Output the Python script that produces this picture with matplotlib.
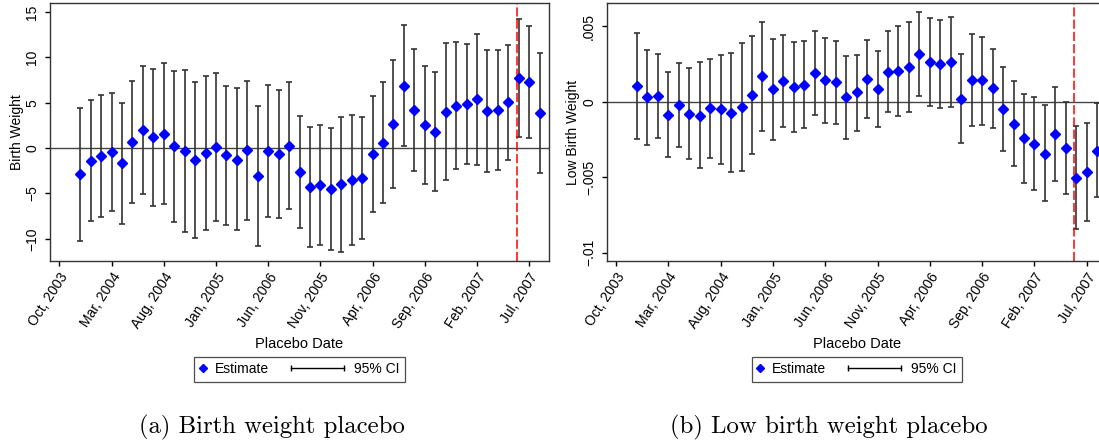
import numpy as np
import matplotlib
matplotlib.use("Agg")
import matplotlib.pyplot as plt
from matplotlib.lines import Line2D
from matplotlib.legend_handler import HandlerBase

plt.rcParams['font.family'] = ['Liberation Sans', 'DejaVu Sans']

# placebo months, counted from Oct 2003 (= 0)
months = np.arange(2, 47)
tick_pos = [0, 5, 10, 15, 20, 25, 30, 35, 40, 45]
tick_labels = ['Oct, 2003', 'Mar, 2004', 'Aug, 2004', 'Jan, 2005', 'Jun, 2006',
               'Nov, 2005', 'Apr, 2006', 'Sep, 2006', 'Feb, 2007', 'Jul, 2007']
policy_month = 43.8

# (a) birth weight
est_bw = [-2.9, -1.47, -0.88, -0.44, -1.69, 0.62, 1.99, 1.18, 1.58, 0.18,
          -0.33, -1.29, -0.55, 0.11, -0.81, -1.29, -0.26, -3.05, -0.33, -0.63,
          0.26, -2.65, -4.26, -4.08, -4.56, -3.97, -3.53, -3.35, -0.63, 0.59,
          2.65, 6.88, 4.19, 2.57, 1.8, 4.0, 4.67, 4.82, 5.37, 4.04,
          4.19, 5.07, 7.72, 7.24, 3.86]
hi_bw = [4.4, 5.26, 5.88, 6.03, 5.0, 7.43, 9.04, 8.71, 9.34, 8.46,
         8.57, 7.32, 7.9, 8.3, 6.88, 6.58, 7.43, 4.67, 6.95, 6.4,
         7.28, 3.57, 2.35, 2.57, 2.17, 3.46, 3.6, 3.42, 5.7, 7.28,
         9.67, 13.6, 10.9, 9.08, 8.38, 11.6, 11.7, 11.5, 12.6, 10.85,
         10.77, 11.4, 14.23, 13.46, 10.5]
lo_bw = [-10.2, -8.05, -7.6, -6.9, -8.35, -6.1, -5.1, -6.36, -6.14, -8.1,
         -9.26, -9.9, -9.0, -8.05, -8.5, -9.08, -7.94, -10.77, -7.65, -7.76,
         -6.69, -8.86, -10.88, -10.74, -11.2, -11.43, -10.7, -10.07, -7.0, -6.07,
         -4.38, 0.2, -2.54, -3.93, -4.74, -3.53, -2.35, -1.8, -1.88, -2.68,
         -2.43, -1.29, 1.25, 1.07, -2.79]

# (b) low birth weight (in thousandths)
est_lbw = [1.02, 0.29, 0.35, -0.86, -0.22, -0.80, -0.93, -0.44, -0.51, -0.73,
           -0.33, 0.44, 1.69, 0.82, 1.35, 1.00, 1.11, 1.88, 1.42, 1.29,
           0.29, 0.62, 1.51, 0.84, 2.00, 2.04, 2.31, 3.15, 2.62, 2.48,
           2.62, 0.18, 1.44, 1.42, 0.89, -0.51, -1.46, -2.42, -2.77, -3.44,
           -2.11, -3.08, -5.06, -4.63, -3.24]
hi_lbw = [4.55, 3.46, 3.17, 2.00, 2.55, 2.24, 2.62, 2.86, 3.13, 3.26,
          3.92, 4.35, 5.32, 4.17, 4.46, 3.99, 4.06, 4.66, 4.24, 4.01,
          3.02, 3.10, 4.10, 3.37, 4.72, 5.03, 5.30, 5.96, 5.54, 5.39,
          5.61, 3.15, 4.50, 4.30, 3.48, 2.28, 1.35, 0.49, 0.29, -0.24,
          1.00, -0.02, -1.64, -1.40, -0.09]
lo_lbw = [-2.46, -2.88, -2.39, -3.68, -2.97, -3.81, -4.41, -3.70, -4.15, -4.68,
          -4.59, -3.46, -1.95, -2.51, -1.69, -2.02, -1.75, -0.86, -1.40, -1.46,
          -2.44, -1.91, -1.06, -1.66, -0.67, -0.93, -0.69, 0.35, -0.27, -0.40,
          -0.38, -2.75, -1.64, -1.51, -1.71, -3.28, -4.26, -5.37, -5.85, -6.59,
          -5.23, -6.14, -8.43, -7.90, -6.34]
est_lbw = np.array(est_lbw) / 1000
hi_lbw = np.array(hi_lbw) / 1000
lo_lbw = np.array(lo_lbw) / 1000


class HandlerCI(HandlerBase):
    def create_artists(self, legend, orig_handle, xdescent, ydescent,
                       width, height, fontsize, trans):
        x1 = width - xdescent
        x0 = x1 - 38
        y = height / 2 - ydescent
        line = Line2D([x0, x1], [y, y], color='black', lw=1, transform=trans)
        caps = Line2D([x0, x1], [y, y], ls='', marker='|', ms=5, mew=1,
                      color='black', transform=trans)
        return [line, caps]


def panel(ax, est, lo, hi, ylim, yticks, ylabels, ylab):
    est = np.array(est)
    lo = np.array(lo)
    hi = np.array(hi)
    ax.axhline(0, color='#444444', lw=1, zorder=1)
    ax.errorbar(months, est, yerr=[est - lo, hi - est], fmt='none',
                ecolor='#333333', elinewidth=1.2, capsize=2.5, capthick=1.2, zorder=2)
    ax.plot(months, est, ls='', marker='D', color='blue', ms=4.6, zorder=3)
    ax.axvline(policy_month, color='red', lw=1.1, ls=(0, (6, 2)), zorder=2)
    ax.set_xlim(-0.89, 46.89)
    ax.set_ylim(*ylim)
    ax.set_xticks(tick_pos)
    ax.set_xticklabels(tick_labels, rotation=57, ha='right', rotation_mode='anchor',
                       fontsize=10)
    ax.set_yticks(yticks)
    ax.set_yticklabels(ylabels, rotation=90, va='center', fontsize=10)
    ax.tick_params(axis='both', direction='out', length=3.6, width=1,
                   color='black')
    ax.tick_params(axis='x', pad=3)
    ax.tick_params(axis='y', pad=4)
    for s in ax.spines.values():
        s.set_color('#333333')
        s.set_linewidth(1)
    ax.set_xlabel('Placebo Date', fontsize=10.5)
    ax.xaxis.set_label_coords(0.5, -0.295)
    ax.set_ylabel(ylab, fontsize=10)
    ax.yaxis.set_label_coords(-0.053, 0.5)

    h_est = Line2D([], [], ls='', marker='D', color='blue', ms=3.6)
    h_ci = Line2D([], [], color='black')
    leg = ax.legend([h_est, h_ci], ['Estimate', '95% CI'], ncol=2,
                    handler_map={h_ci: HandlerCI()},
                    loc='upper center', bbox_to_anchor=(0.5, -0.371),
                    borderaxespad=0, fontsize=10, frameon=True, fancybox=False,
                    borderpad=0.4, handlelength=0.4, handletextpad=0.68,
                    columnspacing=5.0)
    leg.get_frame().set_edgecolor('#222222')
    leg.get_frame().set_linewidth(0.9)


fig = plt.figure(figsize=(10.99, 4.45), dpi=100)
ax1 = fig.add_axes([50 / 1099, 1 - 261 / 445, 499 / 1099, 258 / 445])
ax2 = fig.add_axes([606.7 / 1099, 1 - 261 / 445, 499.8 / 1099, 258 / 445])

panel(ax1, est_bw, lo_bw, hi_bw, (-12.45, 16.0), [-10, -5, 0, 5, 10, 15],
      ['\u221210', '\u22125', '0', '5', '10', '15'], 'Birth Weight')
panel(ax2, est_lbw, lo_lbw, hi_lbw, (-0.01056, 0.00655), [-0.01, -0.005, 0, 0.005],
      ['\u2212.01', '\u2212.005', '0', '.005'], 'Low Birth Weight')

fig.text(272 / 1099, 1 - 427 / 445, '(a) Birth weight placebo', family='cmr10',
         fontsize=17.8, ha='center', va='center')
fig.text(829 / 1099, 1 - 427 / 445, '(b) Low birth weight placebo', family='cmr10',
         fontsize=17.8, ha='center', va='center')

fig.savefig('out.png', dpi=100)
